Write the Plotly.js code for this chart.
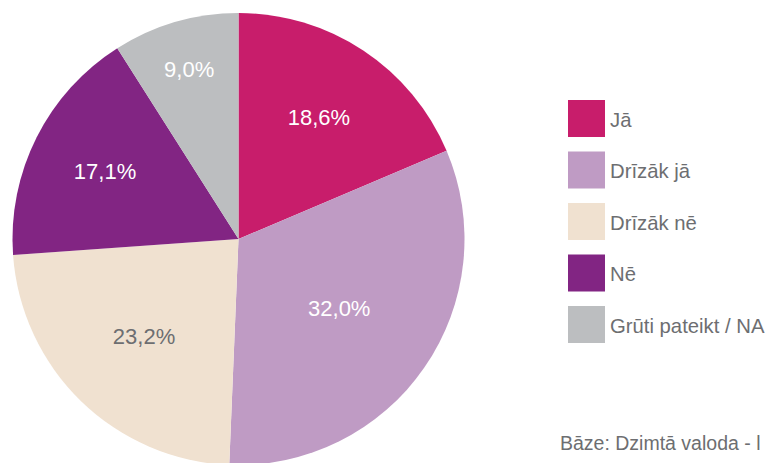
<!DOCTYPE html>
<html>
<head>
<meta charset="utf-8">
<script src="https://cdn.plot.ly/plotly-3.0.1.min.js"></script>
<style>
  html, body { margin: 0; padding: 0; overflow: hidden; background: #ffffff; }
  #chart { width: 770px; height: 465px; }
</style>
</head>
<body>
<div id="chart"></div>
<script>
// ---- data ----
const categories = ["Jā", "Drīzāk jā", "Drīzāk nē", "Nē", "Grūti pateikt / NA"];
const values = [18.6, 32.0, 23.2, 17.1, 9.0];
const valueLabels = ["18,6%", "32,0%", "23,2%", "17,1%", "9,0%"];
const colors = ["#c81d6b", "#bf9bc4", "#f0e1d0", "#822583", "#bcbec0"];
const labelColors = ["#ffffff", "#ffffff", "#6d6e71", "#ffffff", "#ffffff"];
const footnote = "Bāze: Dzimtā valoda - l";

const W = 770, H = 465;
const textGray = "#6d6e71";
const fontFam = "Liberation Sans, Arial, sans-serif";

const pie = {
  type: "pie",
  labels: categories,
  values: values,
  text: valueLabels,
  textinfo: "text",
  textposition: "inside",
  insidetextorientation: "horizontal",
  sort: false,
  direction: "clockwise",
  rotation: 0,
  marker: { colors: colors, line: { width: 0 } },
  insidetextfont: { family: fontFam, size: 22, color: labelColors },
  hoverinfo: "label+text",
  domain: { x: [12.5 / W, 464.5 / W], y: [0, 1 - 13 / H] },
  showlegend: false
};

// custom legend built from categories/colors
const shapes = [];
const annotations = [];
const legX0 = 568, sq = 37, legTop = 100, legStep = 51.5;
categories.forEach((c, i) => {
  const top = legTop + i * legStep;
  shapes.push({
    type: "rect", xref: "paper", yref: "paper",
    x0: legX0 / W, x1: (legX0 + sq) / W,
    y0: 1 - (top + sq) / H, y1: 1 - top / H,
    fillcolor: colors[i], line: { width: 0 }
  });
  annotations.push({
    xref: "paper", yref: "paper",
    x: (legX0 + sq + 3) / W, y: 1 - (top + sq / 2 + 1) / H,
    xanchor: "left", yanchor: "middle",
    text: c, showarrow: false,
    font: { family: fontFam, size: 20.3, color: textGray }
  });
});
annotations.push({
  xref: "paper", yref: "paper",
  x: 558 / W, y: 1 - 443 / H,
  xanchor: "left", yanchor: "middle",
  text: footnote, showarrow: false,
  font: { family: fontFam, size: 19.5, color: textGray }
});

const layout = {
  width: W, height: H,
  margin: { l: 0, r: 0, t: 0, b: 0, pad: 0 },
  paper_bgcolor: "#ffffff",
  plot_bgcolor: "#ffffff",
  showlegend: false,
  shapes: shapes,
  annotations: annotations
};

Plotly.newPlot("chart", [pie], layout, { displayModeBar: false, staticPlot: true });
</script>
</body>
</html>
